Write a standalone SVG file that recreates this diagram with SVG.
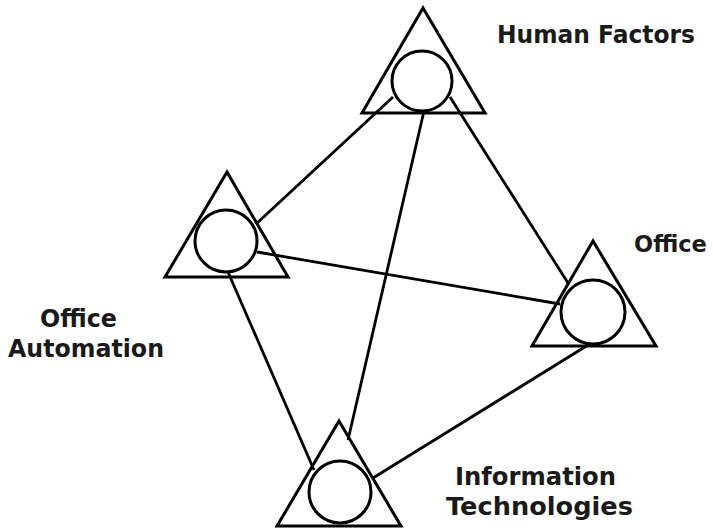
<svg xmlns="http://www.w3.org/2000/svg" width="713" height="528" viewBox="0 0 713 528">
<style>
.sh{fill:none;stroke:#000;stroke-width:3}
.ln{stroke:#000;stroke-width:2.8;fill:none}
.lb{font-family:"DejaVu Sans",Verdana,sans-serif;font-weight:bold;font-size:25px;fill:#1a1a1a}
</style>
<rect width="713" height="528" fill="#fff"/>
<g id="connectors">
<line class="ln" x1="393" y1="97" x2="256" y2="224"/>
<line class="ln" x1="424" y1="111" x2="348" y2="440"/>
<line class="ln" x1="450" y1="97" x2="568" y2="283"/>
<line class="ln" x1="257" y1="252" x2="560" y2="304"/>
<line class="ln" x1="228" y1="272" x2="314" y2="470"/>
<line class="ln" x1="588" y1="345" x2="373" y2="478"/>
</g>
<g id="human-factors">
<polygon class="sh" points="423,8 485,113 362,113"/>
<circle class="sh" cx="422" cy="81" r="30"/>
<text class="lb" x="497" y="43" textLength="198" lengthAdjust="spacingAndGlyphs">Human Factors</text>
</g>
<g id="office-automation">
<polygon class="sh" points="227,172 288,277 165,277"/>
<circle class="sh" cx="226" cy="241" r="31"/>
<text class="lb" x="40" y="327" textLength="77" lengthAdjust="spacingAndGlyphs">Office</text>
<text class="lb" x="8" y="357" textLength="156" lengthAdjust="spacingAndGlyphs">Automation</text>
</g>
<g id="office">
<polygon class="sh" points="593,241 656,346 532,346"/>
<circle class="sh" cx="593" cy="312" r="32"/>
<text class="lb" x="634" y="252" style="font-size:22.5px">Office</text>
</g>
<g id="information-technologies">
<polygon class="sh" points="339,421 401,526 277,526"/>
<circle class="sh" cx="340" cy="492" r="31"/>
<text class="lb" x="455" y="485" textLength="161" lengthAdjust="spacingAndGlyphs">Information</text>
<text class="lb" x="446" y="515" textLength="187" lengthAdjust="spacingAndGlyphs">Technologies</text>
</g>
</svg>
